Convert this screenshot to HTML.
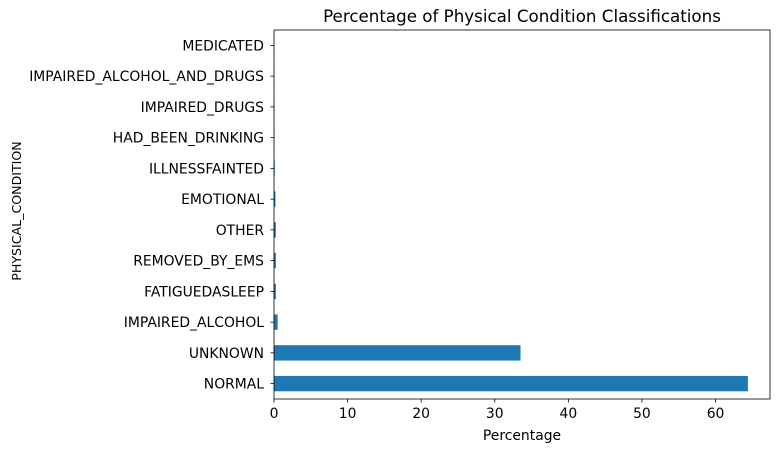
<!DOCTYPE html>
<html><head><meta charset="utf-8"><style>
body{margin:0;background:#fff;font-family:"Liberation Sans","DejaVu Sans",sans-serif;}
svg text{font-family:"DejaVu Sans","Liberation Sans",sans-serif;}
</style></head><body>
<svg id="chart" width="780" height="453"></svg>
<script>
const categories=["NORMAL","UNKNOWN","IMPAIRED_ALCOHOL","FATIGUEDASLEEP","REMOVED_BY_EMS","OTHER","EMOTIONAL","ILLNESSFAINTED","HAD_BEEN_DRINKING","IMPAIRED_DRUGS","IMPAIRED_ALCOHOL_AND_DRUGS","MEDICATED"];
const values=[64.4,33.5,0.5,0.25,0.25,0.25,0.2,0.1,0.07,0.05,0.03,0.02];
const xTicks=[0,10,20,30,40,50,60];
const NS="http://www.w3.org/2000/svg";
const svg=document.getElementById('chart');
const L=274,R=770,T=30,B=399,xMax=67.4;
const x=v=>L+v/xMax*(R-L);
const band=(B-T)/categories.length;
const y=i=>B-(i+0.5)*band;
function mk(tag,attrs,txt){const e=document.createElementNS(NS,tag);for(const k in attrs)e.setAttribute(k,attrs[k]);if(txt!==undefined)e.textContent=txt;svg.appendChild(e);return e;}
values.forEach((v,i)=>{
 const r=mk('rect',{x:x(0),y:y(i)-band*0.25,width:x(v)-x(0),height:band*0.5,fill:'#1f77b4'});
 
 
 mk('line',{x1:L,x2:L-3.5,y1:y(i),y2:y(i),stroke:'#000','stroke-width':0.8});
 const t=mk('text',{x:L-10,y:y(i)+5,'text-anchor':'end','font-size':13.9},categories[i]);
 
 
});
xTicks.forEach(v=>{
 mk('line',{x1:x(v),x2:x(v),y1:B,y2:B+3.5,stroke:'#000','stroke-width':0.8});
 const t=mk('text',{x:x(v),y:B+19,'text-anchor':'middle','font-size':13.9},v);
 
 
});
const fr=mk('rect',{x:L,y:T,width:R-L,height:B-T,fill:'none',stroke:'#000','stroke-width':0.8});


const ti=mk('text',{x:(L+R)/2,y:T-8,'text-anchor':'middle','font-size':16.7},'Percentage of Physical Condition Classifications');


const xt=mk('text',{x:(L+R)/2,y:440,'text-anchor':'middle','font-size':13.9},'Percentage');


const yt=mk('text',{x:21,y:211,'text-anchor':'middle','font-size':12.6,transform:'rotate(-90 21 211)'},'PHYSICAL_CONDITION');


</script>
</body></html>
